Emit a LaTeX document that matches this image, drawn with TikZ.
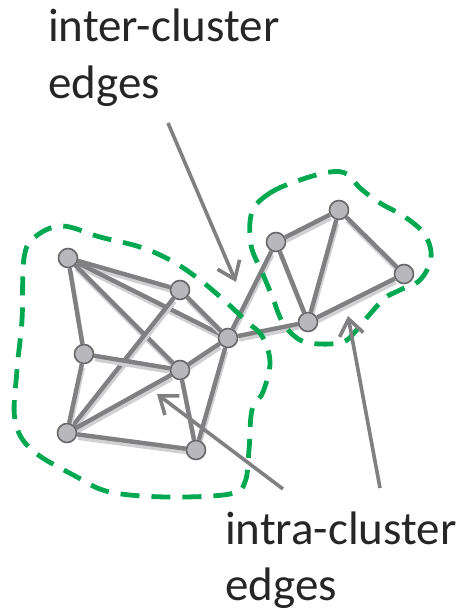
\documentclass[tikz,border=0pt]{standalone}
\usepackage{fontspec}
\setmainfont{Carlito}
\usetikzlibrary{arrows.meta,backgrounds}

\definecolor{edgegray}{RGB}{128,128,130}
\definecolor{shadowgray}{RGB}{208,208,210}
\definecolor{vertexfill}{RGB}{184,184,188}
\definecolor{vertexline}{RGB}{105,105,108}
\definecolor{clustergreen}{RGB}{0,168,80}
\definecolor{labeltext}{RGB}{38,38,38}

\tikzset{
  vertex/.style={circle, minimum size=19pt, inner sep=0pt, fill=vertexfill, draw=vertexline, line width=1.6pt},
  edge/.style={draw=edgegray, line width=4.4pt,
    preaction={draw=shadowgray, line width=4.4pt, transform canvas={shift={(1pt,-3.5pt)}}}},
  cluster/.style={draw=clustergreen, line width=4.8pt, dash pattern=on 19pt off 12pt},
  pointer/.style={draw=edgegray, line width=3.6pt, -{Straight Barb[length=16pt,width=24pt]}},
  caption/.style={text=labeltext, align=left, font=\fontsize{47}{56}\selectfont, inner sep=0pt}
}

\begin{document}
\begin{tikzpicture}[x=1pt, y=-1pt]
    \useasboundingbox (0,0) rectangle (462,610);

    % Left cluster vertices
    \node[vertex] (a) at (68,258) {};
    \node[vertex] (b) at (180,290) {};
    \node[vertex] (c) at (228,338) {};
    \node[vertex] (d) at (84,354) {};
    \node[vertex] (e) at (180,370) {};
    \node[vertex] (f) at (67,433) {};
    \node[vertex] (g) at (196,450) {};

    % Right cluster vertices
    \node[vertex] (h) at (276,242) {};
    \node[vertex] (i) at (339,210) {};
    \node[vertex] (j) at (404,274) {};
    \node[vertex] (k) at (308,322) {};

    % Edges go underneath the vertices
    \begin{pgfonlayer}{background}
        % left cluster
        \draw[edge] (a) -- (b);
        \draw[edge] (a) -- (c);
        \draw[edge] (a) -- (e);
        \draw[edge] (a) -- (d);
        \draw[edge] (b) -- (c);
        \draw[edge] (b) -- (f);
        \draw[edge] (d) -- (e);
        \draw[edge] (d) -- (f);
        \draw[edge] (f) -- (e);
        \draw[edge] (e) -- (c);
        \draw[edge] (f) -- (g);
        \draw[edge] (e) -- (g);
        \draw[edge] (g) -- (c);
        % right cluster
        \draw[edge] (h) -- (i);
        \draw[edge] (h) -- (k);
        \draw[edge] (i) -- (k);
        \draw[edge] (i) -- (j);
        \draw[edge] (k) -- (j);
        % between the clusters
        \draw[edge] (c) -- (h);
        \draw[edge] (c) -- (k);
    \end{pgfonlayer}

    % Cluster outlines
    \draw[cluster] plot[smooth cycle, tension=0.6] coordinates {
        (24,258) (35,237) (62,226) (100,237) (140,247) (172,261) (200,280)
        (226,302) (247,322) (262,336) (270,362) (263,392) (252,410) (249,450)
        (245,482) (230,494) (167,497) (110,492) (77,477) (32,450) (15,420)
        (17,370) (22,320)};
    \draw[cluster] plot[smooth cycle, tension=0.6] coordinates {
        (252,212) (270,193) (300,180) (330,172) (347,174) (360,188) (380,203)
        (405,217) (425,235) (431,258) (420,280) (400,290) (385,298) (370,314)
        (355,332) (343,342) (320,344) (300,340) (283,323) (272,296) (262,272)
        (251,245)};

    % Pointers to the edges
    \coordinate (interfrom) at (168,123);
    \coordinate (interto) at (236,282);
    \coordinate (intrafromA) at (283,489);
    \coordinate (intratoA) at (157,394);
    \coordinate (intrafromB) at (380,488);
    \coordinate (intratoB) at (348,316);
    \draw[pointer] (interfrom) -- (interto);
    \draw[pointer] (intrafromA) -- (intratoA);
    \draw[pointer] (intrafromB) -- (intratoB);

    % Labels (anchored on the baseline of the last line)
    \node[caption, anchor=base west] (interlabel) at (48,98) {inter-cluster\\edges};
    \node[caption, anchor=base west] (intralabel) at (225,600) {intra-cluster\\edges};
\end{tikzpicture}
\end{document}
